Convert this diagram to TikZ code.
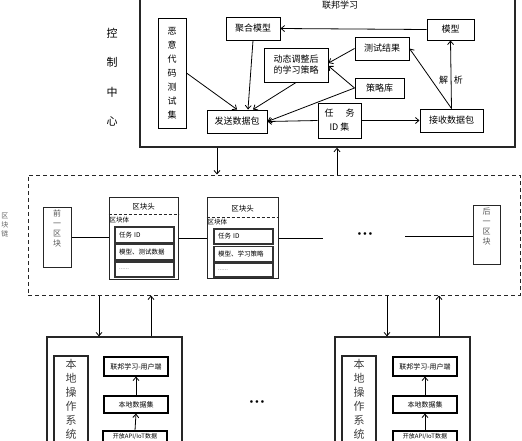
\documentclass[tikz,border=0pt]{standalone}
\usepackage{fontspec}
\setmainfont{Noto Sans CJK SC}
\usetikzlibrary{arrows.meta}

\begin{document}
\begin{tikzpicture}[%
    x=1pt, y=-1pt,
    frame/.style={
      rectangle,
      draw=black!85,
      line width=1.4pt,
      fill=none
    },
    box/.style={
      rectangle,
      draw=black,
      line width=1pt,
      fill=white,
      inner sep=2pt,
      align=center,
      font=\fontsize{9}{11}\selectfont
    },
    vtext/.style={
      align=center,
      inner sep=3pt,
      font=\fontsize{9}{14}\selectfont
    },
    chainbox/.style={
      rectangle,
      draw=black!85,
      line width=1pt,
      dash pattern=on 4pt off 3pt,
      fill=none
    },
    block/.style={
      rectangle,
      draw=black!85,
      line width=1pt,
      fill=white
    },
    cell/.style={
      rectangle,
      draw=black!80,
      line width=1.2pt,
      minimum width=59pt,
      text width=51pt,
      inner xsep=4pt,
      inner ysep=1pt,
      align=left,
      font=\fontsize{6.5}{8}\selectfont
    },
    small/.style={
      box,
      line width=1.1pt,
      font=\fontsize{7}{8}\selectfont
    },
    sep/.style={
      draw=black!85,
      line width=1pt,
      dash pattern=on 3pt off 2pt
    },
    line/.style={
      draw,
      line width=0.8pt,
      -{Straight Barb[length=3.5pt,width=6pt]}
    }
  ]
    \useasboundingbox (0,0) rectangle (522,440);
    \clip (0,0) rectangle (522,440);

    % control centre
    \node[frame, minimum width=375pt, minimum height=160pt] (ctrl) at (327.5,67) {};
    \node[font=\fontsize{9}{11}\selectfont] (title) at (340,5) {联邦学习};
    \foreach \c [count=\i] in {控,制,中,心}
      \node[font=\fontsize{11}{12}\selectfont] (kz\i) at (112,{33+29.5*(\i-1)}) {\c};

    \draw (172,73) node[box, vtext, minimum width=28pt, minimum height=110pt] (evil) {恶\\意\\代\\码\\测\\试\\集};
    \draw (253,28.5) node[box, minimum width=54pt, minimum height=23pt] (jhmx) {聚合模型};
    \draw (296,65) node[box, minimum width=64pt, minimum height=34pt] (dtcl) {动态调整后\\的学习策略};
    \draw (382,48.5) node[box, minimum width=54pt, minimum height=23pt] (csjg) {测试结果};
    \draw (379.5,88) node[box, minimum width=49pt, minimum height=20pt] (clk) {策略库};
    \draw (237,121.5) node[box, minimum width=60pt, minimum height=23pt] (fssj) {发送数据包};
    \draw (339.5,120.5) node[box, minimum width=43pt, minimum height=35pt, font=\fontsize{9}{14}\selectfont] (rwid) {任\hspace{12pt}务\\ID 集};
    \draw (450.5,29.5) node[box, minimum width=47pt, minimum height=21pt] (mx) {模型};
    \draw (451.5,120.5) node[box, minimum width=63pt, minimum height=23pt] (jssj) {接收数据包};
    \node[font=\fontsize{9}{11}\selectfont] (jx) at (451,80) {解\hspace{6pt}析};

    \draw[line] (mx.west) -- (jhmx.east);
    \draw[line] (jssj.north) -- (mx.south);
    \draw[line] (jssj.north) -- (csjg.east);
    \draw[line] (csjg.west) -- ([yshift=2pt]dtcl.east);
    \draw[line] (clk.west) -- ([yshift=-1pt]dtcl.east);
    \draw[line] (clk.west) -- (fssj.east);
    \draw[line] (rwid.west) -- (fssj.east);
    \draw[line] (rwid.east) -- (jssj.west);
    \draw[line] (evil.east) -- (fssj.north);
    \draw[line] (jhmx.south) -- ([xshift=11pt]fssj.north);
    \draw[line] (dtcl.south) -- ([xshift=16pt]fssj.north);

    % blockchain
    \node[chainbox, minimum width=492pt, minimum height=120pt] (chain) at (274,235) {};
    \node[vtext, inner sep=1pt, text=black!60, font=\fontsize{7}{9}\selectfont] (qkl) at (5,225) {区\\块\\链};
    \coordinate (d1) at (217,0);
    \coordinate (d2) at (337,0);
    \draw[line] (ctrl.south -| d1) -- (chain.north -| d1);
    \draw[line] (chain.north -| d2) -- (ctrl.south -| d2);

    \draw (57,237) node[block, minimum width=28pt, minimum height=60pt,
      label={[vtext, anchor=north, text=black!65, font=\fontsize{8}{10}\selectfont]north:前\\一\\区\\块}] (qyqk) {};
    \draw (486.5,234.5) node[block, minimum width=27pt, minimum height=59pt,
      label={[vtext, anchor=north, text=black!65, font=\fontsize{8}{10}\selectfont]north:后\\一\\区\\块}] (hyqk) {};

    \draw (143.5,238) node[block, minimum width=69pt, minimum height=82pt] (blk1) {};
    \node[font=\fontsize{7.5}{9}\selectfont] (tt1) at (143.5,207) {区块头};
    \draw[sep] ([yshift=-18pt]blk1.north west) -- ([yshift=-18pt]blk1.north east);
    \node[anchor=west, inner sep=1pt, font=\fontsize{6.5}{8}\selectfont] (tb1) at ([yshift=-24pt]blk1.north west) {区块体};
    \draw (144.5,235) node[cell, minimum height=16pt] (rw1) {任务 ID};
    \draw (144.5,252) node[cell, minimum height=16pt] (mx1) {模型、测试数据};
    \draw (144.5,269.5) node[cell, minimum height=15pt, text=black!55] (dd1) {\fontsize{6}{6}\selectfont ......};

    \draw (242.5,237.5) node[block, minimum width=71pt, minimum height=81pt] (blk2) {};
    \node[font=\fontsize{7.5}{9}\selectfont] (tt2) at (242.5,209) {区块头};
    \draw[sep] ([yshift=-21pt]blk2.north west) -- ([yshift=-21pt]blk2.north east);
    \node[anchor=west, inner sep=1pt, font=\fontsize{6.5}{8}\selectfont] (tb2) at ([yshift=-26pt]blk2.north west) {区块体};
    \draw (243.5,236.5) node[cell, minimum height=15pt] (rw2) {任务 ID};
    \draw (243.5,254) node[cell, minimum height=15pt] (mx2) {模型、学习策略};
    \draw (243.5,270) node[cell, minimum height=14pt, text=black!55] (dd2) {\fontsize{6}{6}\selectfont ......};

    \coordinate (e1) at (323,238);
    \coordinate (e2) at (405,236);
    \node (dots1) at (365,234) {\fontsize{6}{6}\selectfont$\bullet\bullet\bullet$};
    \draw[line width=1pt] (qyqk.east) -- (qyqk.east -| blk1.west);
    \draw[line width=1pt] (blk1.east |- e1) -- (blk2.west |- e1);
    \draw[line width=1pt] (blk2.east |- e1) -- (e1);
    \draw[line width=1pt] (e2) -- (hyqk.west |- e2);

    % local nodes
    \draw (114.5,398.5) node[frame, line width=1.2pt, minimum width=135pt, minimum height=123pt] (loc1) {};
    \draw (402.5,398.5) node[frame, line width=1.2pt, minimum width=135pt, minimum height=123pt] (loc2) {};
    \coordinate (d3) at (99,0);
    \coordinate (d4) at (151,0);
    \coordinate (d5) at (387,0);
    \coordinate (d6) at (439,0);
    \draw[line] (chain.south -| d3) -- (loc1.north -| d3);
    \draw[line] (loc1.north -| d4) -- (chain.south -| d4);
    \draw[line] (chain.south -| d5) -- (loc2.north -| d5);
    \draw[line] (loc2.north -| d6) -- (chain.south -| d6);

    \draw (71,401) node[block, line width=1.1pt, minimum width=34pt, minimum height=90pt,
      label={[vtext, anchor=north, inner sep=4pt, text=black!75, font=\fontsize{11}{14}\selectfont]north:本\\地\\操\\作\\系\\统}] (os1) {};
    \draw (136,366.5) node[small, minimum width=64pt, minimum height=19pt] (yh1) {联邦学习-用户端};
    \draw (136,404.5) node[small, minimum width=64pt, minimum height=17pt] (bd1) {本地数据集};
    \draw (135,437) node[small, inner sep=1pt, minimum width=64pt, minimum height=12pt, font=\fontsize{6}{7}\selectfont] (kf1) {开放API/IoT数据};
    \draw[line] (bd1.north) -- (yh1.south);
    \draw[line] (kf1.north) -- (bd1.south);

    \draw (359,401) node[block, line width=1.1pt, minimum width=34pt, minimum height=90pt,
      label={[vtext, anchor=north, inner sep=4pt, text=black!75, font=\fontsize{11}{14}\selectfont]north:本\\地\\操\\作\\系\\统}] (os2) {};
    \draw (425,366.5) node[small, minimum width=64pt, minimum height=19pt] (yh2) {联邦学习-用户端};
    \draw (425,404.5) node[small, minimum width=64pt, minimum height=17pt] (bd2) {本地数据集};
    \draw (425,437) node[small, inner sep=1pt, minimum width=64pt, minimum height=12pt, font=\fontsize{6}{7}\selectfont] (kf2) {开放API/IoT数据};
    \draw[line] (bd2.north) -- (yh2.south);
    \draw[line] (kf2.north) -- (bd2.south);

    \node (dots2) at (257,402) {\fontsize{6}{6}\selectfont$\bullet\bullet\bullet$};
  \end{tikzpicture}
\end{document}
